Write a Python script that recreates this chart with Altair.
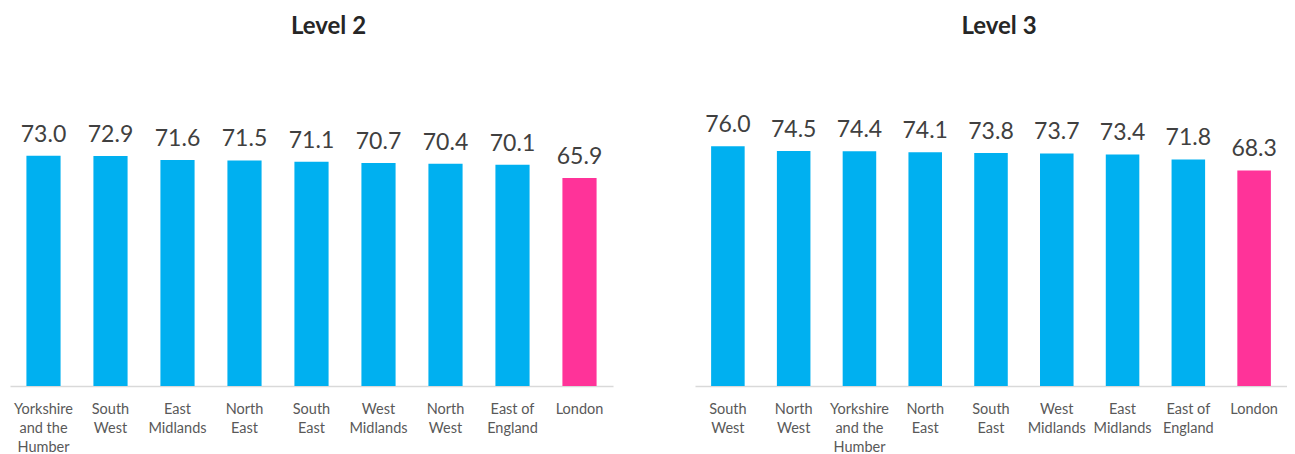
import altair as alt
import pandas as pd

# Level 2
l2_regions = ["Yorkshire and the Humber", "South West", "East Midlands", "North East",
              "South East", "West Midlands", "North West", "East of England", "London"]
l2_values = [73.0, 72.9, 71.6, 71.5, 71.1, 70.7, 70.4, 70.1, 65.9]

# Level 3
l3_regions = ["South West", "North West", "Yorkshire and the Humber", "North East",
              "South East", "West Midlands", "East Midlands", "East of England", "London"]
l3_values = [76.0, 74.5, 74.4, 74.1, 73.8, 73.7, 73.4, 71.8, 68.3]

highlight = "London"
FONT = "Lato"

label_expr = ("datum.label == 'Yorkshire and the Humber' ? ['Yorkshire', 'and the', 'Humber'] : "
              "datum.label == 'East of England' ? ['East of', 'England'] : split(datum.label, ' ')")


def panel(regions, values, title, width, title_dx):
    df = pd.DataFrame({"region": regions, "value": values})
    base = alt.Chart(df).encode(
        x=alt.X("region:N", sort=None, title=None,
                scale=alt.Scale(paddingInner=0.49, paddingOuter=0.245),
                axis=alt.Axis(labelAngle=0, labelExpr=label_expr, ticks=False,
                              domainColor="#d9d9d9", domainWidth=1.5,
                              labelFont=FONT, labelFontSize=14.5, labelColor="#595959",
                              labelLineHeight=19, labelPadding=16, labelBaseline="top")),
        y=alt.Y("value:Q", scale=alt.Scale(domain=[0, 90]), axis=None),
    )
    bars = base.mark_bar().encode(
        color=alt.condition(alt.datum.region == highlight, alt.value("#FF3399"), alt.value("#00B0F0"))
    )
    labels = base.mark_text(baseline="bottom", dy=-9, font=FONT, fontSize=23, color="#404040").encode(
        text=alt.Text("value:Q", format=".1f")
    )
    return alt.layer(bars, labels).properties(
        width=width, height=284,
        title=alt.TitleParams(title, font=FONT, fontSize=24, fontWeight="bold", color="#262626",
                              anchor="middle", offset=63, dx=title_dx)
    )


chart = alt.hconcat(
    panel(l2_regions, l2_values, "Level 2", 603, 17),
    panel(l3_regions, l3_values, "Level 3", 592, 8),
    spacing=82,
).properties(
    padding={"left": 2, "top": 7, "right": 0, "bottom": 0}
).configure_view(stroke=None)

chart.save("out.html", embed_options={"renderer": "svg", "actions": False})
